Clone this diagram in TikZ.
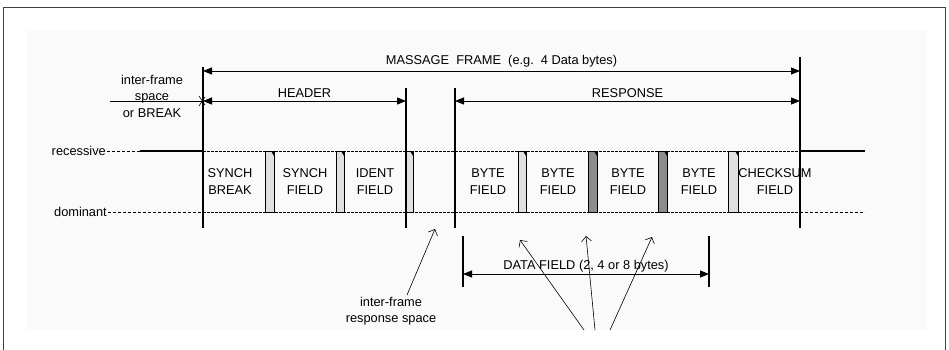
\documentclass[tikz,border=0pt]{standalone}
\usepackage{fontspec}
\setmainfont{Liberation Sans}
\usetikzlibrary{arrows.meta}

\begin{document}
\begin{tikzpicture}[
        x=1pt, y=-1pt,
        font=\fontsize{12.8}{16.5}\selectfont,
        bar/.style={line width=1.6pt},
        dim/.style={thick, {Triangle[length=9pt,width=7pt]}-{Triangle[length=9pt,width=7pt]}},
        ptr/.style={semithick, -{Straight Barb[length=5pt,width=10pt]}},
        txt/.style={inner sep=1pt, align=center},
        light/.style={draw, fill=black!12},
        dark/.style={draw, fill=black!45}
    ]
    \useasboundingbox (0,0) rectangle (949,350);
    \fill[black!2] (27,30) rectangle (927,330);
    \draw[thick, black!75] (3,350) -- (3,7) -- (945,7) -- (945,350);

    % bit levels
    \node[txt, anchor=east] (rec) at (107,151) {recessive};
    \node[txt, anchor=east] (dom) at (108,212) {dominant};
    \coordinate (recIdle) at (140,151);
    \coordinate (recA) at (203,151); \coordinate (recB) at (800,151); \coordinate (recEnd) at (865,151);
    \coordinate (domA) at (203,212); \coordinate (domB) at (800,212); \coordinate (domEnd) at (865,212);
    \draw[thick, dash pattern=on 3pt off 2pt] (rec.east) -- (recIdle);
    \draw[bar] (recIdle) -- (recA);
    \draw[thick, dash pattern=on 3pt off 2pt] (dom.east) -- (domA);
    \draw[line width=0.6pt, dash pattern=on 3pt off 1pt] (recA) -- (recB);
    \draw[line width=0.6pt, dash pattern=on 3pt off 1pt] (domA) -- (domB);
    \draw[bar] (recB) -- (recEnd);
    \draw[thick, dash pattern=on 3pt off 2pt] (domB) -- (domEnd);

    \foreach \a/\b/\c in {265/274/light, 336/344/light, 406/413/light, 518/526/light,
                          588/597/dark, 658/667/dark, 728/738/light}{
        \draw[\c] (\a,212) -- (\a,151) -- (\b,151) -- (\b,212) -- cycle;
        \fill (\b-3,151) -- (\b+1,151) -- (\b,156) -- cycle;
    }

    \node[txt] (sbreak) at (230,181.5) {SYNCH\\BREAK};
    \node[txt] (sfield) at (305,181.5) {SYNCH\\FIELD};
    \node[txt] (ident) at (375,181.5) {IDENT\\FIELD};
    \node[txt] (byte1) at (488,181.5) {BYTE\\FIELD};
    \node[txt] (byte2) at (558,181.5) {BYTE\\FIELD};
    \node[txt] (byte3) at (628,181.5) {BYTE\\FIELD};
    \node[txt] (byte4) at (699,181.5) {BYTE\\FIELD};
    \node[txt] (check) at (775,181.5) {CHECKSUM\\FIELD};

    % frame limits
    \coordinate (frameT) at (203,67);  \coordinate (frameB) at (203,228);
    \coordinate (headT) at (406,88);   \coordinate (headB) at (406,228);
    \coordinate (respT) at (455,88);   \coordinate (respB) at (455,228);
    \coordinate (endT) at (800,57);    \coordinate (endB) at (800,228);
    \draw[bar] (frameT) -- (frameB);
    \draw[bar] (headT) -- (headB);
    \draw[bar] (respT) -- (respB);
    \draw[bar] (endT) -- (endB);

    \coordinate (msgL) at (203,71);  \coordinate (msgR) at (800,71);
    \coordinate (hdL) at (203,101);  \coordinate (hdR) at (406,101);
    \coordinate (rsL) at (455,101);  \coordinate (rsR) at (800,101);
    \draw[dim] (msgL) -- node[txt, above=2pt] {MASSAGE\ \ FRAME\ \ (e.g.\ \ 4 Data bytes)} (msgR);
    \draw[dim] (hdL) -- node[txt, above=2pt] {HEADER} (hdR);
    \draw[dim] (rsL) -- node[txt, above=2pt] {RESPONSE} (rsR);

    \node[txt] (ifs) at (152,96) {inter-frame\\space\\or BREAK};
    \coordinate (ifsL) at (110,101);
    \draw[semithick] (ifsL) -- (hdL);
    \draw[semithick] (hdL) +(-4,-5) -- +(2,4) (hdL) +(-4,5) -- +(2,-4);

    % data field
    \coordinate (dataLT) at (463,236); \coordinate (dataLB) at (463,287);
    \coordinate (dataRT) at (709,236); \coordinate (dataRB) at (709,287);
    \draw[bar] (dataLT) -- (dataLB);
    \draw[bar] (dataRT) -- (dataRB);
    \coordinate (dataL) at (463,274); \coordinate (dataR) at (709,274);
    \draw[dim] (dataL) -- node[txt, above=0pt] {DATA FIELD (2, 4 or 8 bytes)} (dataR);

    \node[txt] (irs) at (391,311) {inter-frame\\response space};
    \coordinate (irsA) at (407,295); \coordinate (irsB) at (435,229);
    \draw[ptr] (irsA) -- (irsB);

    \foreach \s/\e/\y [count=\i] in {584/520/240, 595/586/236, 610/652/237}{
        \coordinate (src\i) at (\s,330);
        \coordinate (tip\i) at (\e,\y);
        \draw[ptr] (src\i) -- (tip\i);
    }
\end{tikzpicture}
\end{document}
